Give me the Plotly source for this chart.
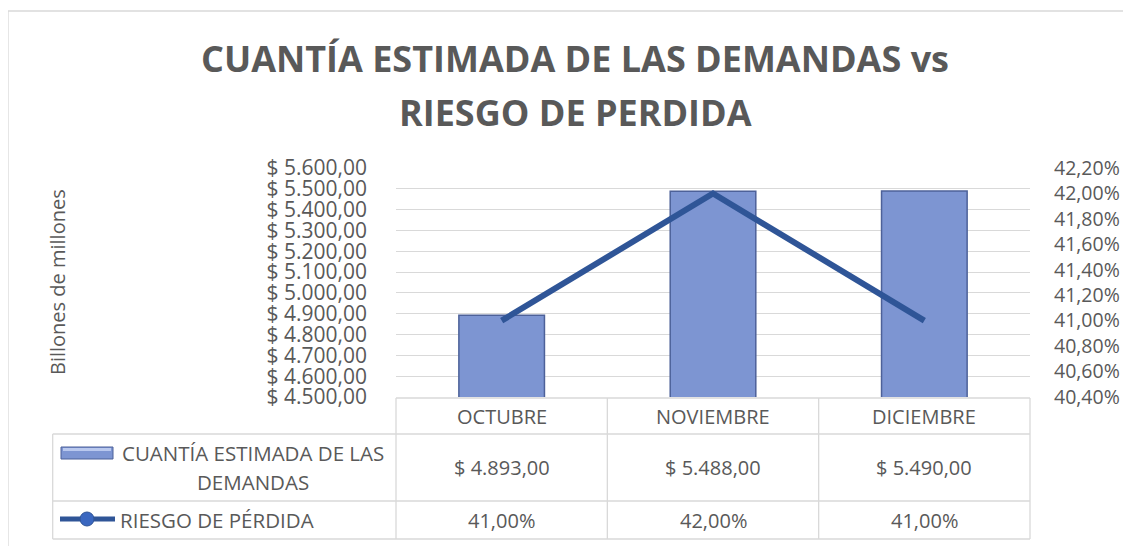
import plotly.graph_objects as go

meses = ["OCTUBRE", "NOVIEMBRE", "DICIEMBRE"]
cuantia = [4893, 5488, 5490]
riesgo = [41.0, 42.0, 41.0]
serie_barras = ["CUANTÍA ESTIMADA DE LAS", "DEMANDAS"]
serie_linea = "RIESGO DE PÉRDIDA"
titulo = ["CUANTÍA ESTIMADA DE LAS DEMANDAS vs", "RIESGO DE PERDIDA"]
eje_titulo = "Billones de millones"

# the page body has an 8px margin, so the figure is placed 8px in and down
OFF = 8
W, H = 1131 - OFF, 546 - OFF
# plot area in reference pixels: x 396..1030, y 168..397
L = 396 - OFF
R = W - (1030 - OFF)
T = 168 - OFF
B = H - (397 - OFF)
PW, PH = W - L - R, H - T - B
FONT = "Open Sans"
GRAY = "#595959"
LINE = "#d9d9d9"
BAR = "#7d95d2"
BAR_EDGE = "#4d6199"
LINE_COL = "#2f5597"


def px(X):
    """reference-screenshot x pixel -> paper coordinate"""
    return (X - OFF - L) / PW


def py(Y):
    """reference-screenshot y pixel -> paper coordinate"""
    return (H - B - (Y - OFF)) / PH


def fmt_money(v):
    s = f"{v:,.2f}".replace(",", "X").replace(".", ",").replace("X", ".")
    return "$ " + s


def fmt_pct(v):
    return f"{v:.2f}".replace(".", ",") + "%"


fig = go.Figure()
fig.add_trace(go.Bar(
    x=meses, y=cuantia, width=0.405,
    marker=dict(color=BAR, line=dict(color=BAR_EDGE, width=1.5)),
    showlegend=False,
))
fig.add_trace(go.Scatter(
    x=meses, y=riesgo, yaxis="y2", mode="lines",
    line=dict(color=LINE_COL, width=6),
    showlegend=False,
))

shapes = []
ann = []


def hline(y, x0, x1, color=LINE, w=1.3):
    shapes.append(dict(type="line", xref="paper", yref="paper",
                       x0=px(x0), x1=px(x1), y0=py(y), y1=py(y),
                       line=dict(color=color, width=w)))


def vline(x, y0, y1, color=LINE, w=1.3):
    shapes.append(dict(type="line", xref="paper", yref="paper",
                       x0=px(x), x1=px(x), y0=py(y0), y1=py(y1),
                       line=dict(color=color, width=w)))


def text(x, y, s, size, xref="paper", xanchor="center", angle=0):
    ann.append(dict(x=x, xref=xref, y=y, yref="paper", text=s, showarrow=False,
                    xanchor=xanchor, yanchor="middle", textangle=angle,
                    font=dict(size=size, color=GRAY, family=FONT)))


# outer chart border
hline(11, 8, 1131)
vline(8, 11, 546)

# data table grid
hline(398, 396, 1030)
for yy in (434, 501, 539):
    hline(yy, 52.7, 1030)
col_w = (1030 - 396) / len(meses)
for i in range(len(meses) + 1):
    vline(396 + i * col_w, 398, 539)
vline(52.7, 434, 539)

# table text
TS = 20
for m, c, r in zip(meses, cuantia, riesgo):
    text(m, py(416), m, TS, xref="x")
    text(m, py(467.5), fmt_money(c), TS, xref="x")
    text(m, py(520), fmt_pct(r), TS, xref="x")

text(px(253), py(453), serie_barras[0], 20.5)
text(px(253), py(482), serie_barras[1], 20.5)
text(px(118), py(520), serie_linea, 20.5, xanchor="left")

# legend keys
shapes.append(dict(type="rect", xref="paper", yref="paper",
                   x0=px(61), x1=px(113), y0=py(459), y1=py(447),
                   fillcolor=BAR, line=dict(color=BAR_EDGE, width=1)))
shapes.append(dict(type="rect", xref="paper", yref="paper",
                   x0=px(63), x1=px(111), y0=py(451), y1=py(448),
                   fillcolor="#b9c8ee", line=dict(width=0)))
shapes.append(dict(type="line", xref="paper", yref="paper",
                   x0=px(60), x1=px(115), y0=py(519), y1=py(519),
                   line=dict(color=LINE_COL, width=5)))
shapes.append(dict(type="circle", xref="paper", yref="paper",
                   x0=px(80), x1=px(94), y0=py(526), y1=py(512),
                   fillcolor="#3a67c0", line=dict(color=LINE_COL, width=1)))

# titles
text(px(575), py(59), "<b>" + titulo[0] + "</b>", 36)
text(px(575), py(112), "<b>" + titulo[1] + "</b>", 36)
text(px(57), py(282), eje_titulo, 20, angle=-90)

fig.update_layout(
    width=W, height=H,
    margin=dict(l=L, r=R, t=T, b=B, pad=0, autoexpand=False),
    paper_bgcolor="white", plot_bgcolor="white",
    separators=",.",
    font=dict(family=FONT, color=GRAY),
    xaxis=dict(showticklabels=False, showgrid=False, zeroline=False, showline=False,
               ticks=""),
    yaxis=dict(range=[4500, 5600], dtick=100, tickformat=",.2f", tickprefix="$ ",
               showgrid=True, gridcolor=LINE, gridwidth=1, zeroline=False,
               showline=False, ticks="", ticklabelstandoff=28, automargin=False,
               tickfont=dict(size=21, color=GRAY, family=FONT)),
    yaxis2=dict(range=[40.4, 42.2], dtick=0.2, tickformat=".2f", ticksuffix="%",
                overlaying="y", side="right", showgrid=False, zeroline=False,
                showline=False, ticks="", ticklabelstandoff=23, automargin=False,
                tickfont=dict(size=19.5, color=GRAY, family=FONT)),
    shapes=shapes, annotations=ann,
)

fig.write_html("out.html")
